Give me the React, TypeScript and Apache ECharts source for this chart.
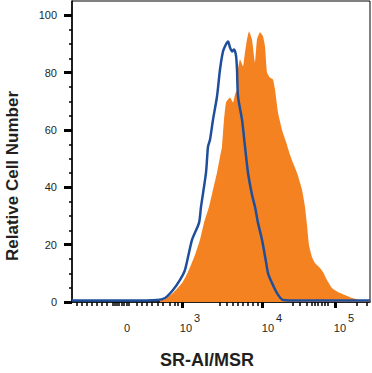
import React, { useEffect, useRef } from "react";
import * as echarts from "echarts";

// Display channel scale (biexponential display), 0..298
const channelMin = 0;
const channelMax = 298;

// Isotype control (blue outline)
const isotypeChannel = [0, 28, 58, 85, 93, 101, 108, 113, 120, 127, 129, 134, 136, 138, 141, 145, 148, 151, 154, 156, 158, 160, 162, 164, 165, 166, 170, 173, 176, 180, 183, 186, 190, 194, 196, 200, 205, 211, 228, 298];
const isotypeCount = [0.5, 0.5, 0.5, 0.7, 1.4, 4.2, 7.7, 11.2, 21.7, 27.6, 33.2, 45.1, 54.2, 56.6, 63.6, 71.7, 81.1, 87.4, 89.9, 90.9, 88.8, 87.4, 88.1, 86.0, 81.1, 71.7, 63.6, 54.2, 45.1, 37.4, 33.2, 27.6, 21.7, 14.0, 10.1, 6.6, 3.1, 0.7, 0.5, 0.5];

// SR-AI/MSR stained (orange filled)
const stainedChannel = [88, 93, 101, 110, 116, 123, 128, 132, 137, 141, 145, 148, 150, 152, 154, 156, 158, 161, 163, 165, 166, 168, 171, 173, 175, 177, 180, 183, 185, 188, 191, 193, 195, 198, 201, 203, 206, 210, 214, 218, 221, 225, 230, 233, 235, 237, 240, 243, 248, 251, 255, 260, 268, 278, 288, 298];
const stainedCount = [0.5, 1.0, 3.1, 6.6, 10.5, 16.4, 21.7, 27.6, 33.2, 39.2, 45.1, 50.7, 54.2, 63.6, 69.6, 70.6, 71.3, 69.6, 72.4, 74.1, 81.1, 84.6, 82.2, 87.1, 91.6, 94.4, 91.6, 83.6, 91.6, 94.1, 92.7, 89.2, 80.1, 78.3, 77.6, 74.1, 66.1, 60.1, 55.9, 51.4, 48.6, 45.1, 39.2, 33.2, 26.9, 19.9, 15.7, 13.6, 11.9, 10.5, 7.7, 4.9, 3.1, 1.7, 0.7, 0.5];

// Axis ticks and labels
const xMajorTickChannel = [110, 190, 263];
const xMinorTickChannel = [5, 10, 15, 20, 25, 30, 35, 41, 43, 45, 47, 50, 52, 55, 57, 65, 70, 75, 80, 86, 91, 98, 103, 106, 148, 155, 161, 166, 171, 176, 181, 186, 221, 228, 235, 240, 243, 246, 250, 253, 256, 285, 295];
const xLabelChannel = [55, 118, 200, 272];
const xLabelBase = ["0", "10", "10", "10"];
const xLabelExp = ["", "3", "4", "5"];
const yMajorTicks = [0, 20, 40, 60, 80, 100];
const yMinorTicks = [5, 10, 15, 25, 30, 35, 45, 50, 55, 65, 70, 75, 85, 90, 95];
const yMin = 0;
const yMax = 105;

const xTitle = "SR-AI/MSR";
const yTitle = "Relative Cell Number";

const FONT = "'Liberation Sans', Arial, Helvetica, sans-serif";
const INK = "#231f20";

export default function App() {
  const ref = useRef<HTMLDivElement>(null);

  useEffect(() => {
    if (!ref.current) return;
    const chart = echarts.init(ref.current, undefined, { renderer: "svg" });
    const isoData = isotypeChannel.map((c, i) => [c, isotypeCount[i]]);
    const stData = stainedChannel.map((c, i) => [c, stainedCount[i]]);

    const gridCfg = { left: 72, top: 1, right: 2, bottom: 71 };

    chart.setOption({
      animation: false,
      grid: { ...gridCfg, show: true, borderColor: "#000", borderWidth: 1, backgroundColor: "#fff" },
      xAxis: [
        {
          type: "value",
          position: "bottom",
          min: channelMin,
          max: channelMax,
          axisLine: { show: true, onZero: false, lineStyle: { color: "#000", width: 1.5 } },
          splitLine: { show: false },
          axisTick: { show: true, customValues: xMajorTickChannel, length: 6, lineStyle: { color: "#000", width: 3 } },
          axisLabel: {
            show: true,
            customValues: xLabelChannel,
            margin: 10,
            color: INK,
            formatter: (v: number) => {
              const i = xLabelChannel.indexOf(v);
              if (i < 0) return "";
              return xLabelExp[i] ? `{b|${xLabelBase[i]}}{s|${xLabelExp[i]}}` : `{b|${xLabelBase[i]}}`;
            },
            rich: {
              b: { fontSize: 11, fontFamily: FONT, color: INK, lineHeight: 21, verticalAlign: "bottom" },
              s: { fontSize: 11, fontFamily: FONT, color: INK, lineHeight: 21, verticalAlign: "top", padding: [0, 0, 0, 2] },
            },
          },
        },
        {
          type: "value",
          position: "bottom",
          min: channelMin,
          max: channelMax,
          axisLine: { show: false, onZero: false },
          splitLine: { show: false },
          axisLabel: { show: false },
          axisTick: { show: true, customValues: xMinorTickChannel, length: 4, lineStyle: { color: "#000", width: 1.5 } },
        },
      ],
      yAxis: [
        {
          type: "value",
          position: "left",
          min: yMin,
          max: yMax,
          axisLine: { show: true, onZero: false, lineStyle: { color: "#000", width: 1.5 } },
          splitLine: { show: false },
          axisTick: { show: true, customValues: yMajorTicks, length: 8, lineStyle: { color: "#000", width: 3 } },
          axisLabel: { show: true, customValues: yMajorTicks, margin: 15, fontSize: 11, fontFamily: FONT, color: INK },
        },
        {
          type: "value",
          position: "left",
          min: yMin,
          max: yMax,
          axisLine: { show: false, onZero: false },
          splitLine: { show: false },
          axisLabel: { show: false },
          axisTick: { show: true, customValues: yMinorTicks, length: 3, lineStyle: { color: "#000", width: 1.5 } },
        },
      ],
      graphic: [
        {
          type: "text",
          x: 207,
          y: 360,
          style: { text: xTitle, font: `bold 18px ${FONT}`, fill: INK, textAlign: "center", textVerticalAlign: "middle" },
        },
        {
          type: "text",
          x: 12,
          y: 176,
          rotation: Math.PI / 2,
          style: { text: yTitle, font: `bold 17px ${FONT}`, fill: INK, textAlign: "center", textVerticalAlign: "middle" },
        },
      ],
      series: [
        {
          type: "line",
          name: "SR-AI/MSR",
          xAxisIndex: 0,
          yAxisIndex: 0,
          data: stData,
          showSymbol: false,
          smooth: 0.15,
          lineStyle: { width: 0, color: "#f58220" },
          itemStyle: { color: "#f58220" },
          areaStyle: { color: "#f58220", opacity: 1 },
          z: 2,
        },
        {
          type: "line",
          name: "Isotype",
          xAxisIndex: 0,
          yAxisIndex: 0,
          data: isoData,
          showSymbol: false,
          smooth: 0.25,
          lineStyle: { width: 2.5, color: "#1f4f9b" },
          itemStyle: { color: "#1f4f9b" },
          z: 3,
        },
      ],
    });
    return () => chart.dispose();
  }, []);

  return (
    <div
      ref={ref}
      style={{ position: "fixed", left: 0, top: 0, width: 372, height: 373, background: "#fff" }}
    />
  );
}
